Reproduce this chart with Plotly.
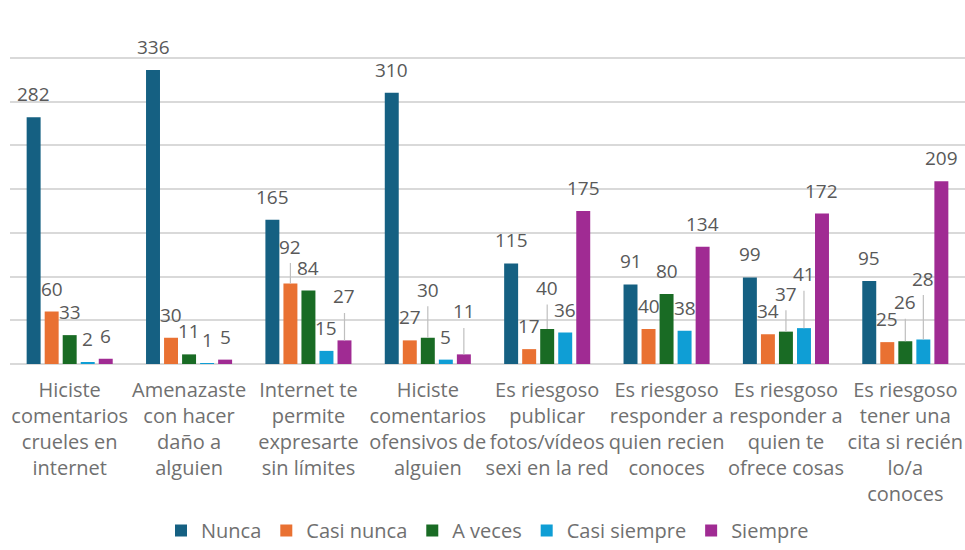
import plotly.graph_objects as go

categories = [
    "Hiciste<br>comentarios<br>crueles en<br>internet",
    "Amenazaste<br>con hacer<br>daño a<br>alguien",
    "Internet te<br>permite<br>expresarte<br>sin límites",
    "Hiciste<br>comentarios<br>ofensivos de<br>alguien",
    "Es riesgoso<br>publicar<br>fotos/vídeos<br>sexi en la red",
    "Es riesgoso<br>responder a<br>quien recien<br>conoces",
    "Es riesgoso<br>responder a<br>quien te<br>ofrece cosas",
    "Es riesgoso<br>tener una<br>cita si recién<br>lo/a<br>conoces",
]
series_names = ["Nunca", "Casi nunca", "A veces", "Casi siempre", "Siempre"]
nunca = [282, 336, 165, 310, 115, 91, 99, 95]
casi_nunca = [60, 30, 92, 27, 17, 40, 34, 25]
a_veces = [33, 11, 84, 30, 40, 80, 37, 26]
casi_siempre = [2, 1, 15, 5, 36, 38, 41, 28]
siempre = [6, 5, 27, 11, 175, 134, 172, 209]
series_values = [nunca, casi_nunca, a_veces, casi_siempre, siempre]

# styles
colors = ["#156082", "#E97132", "#196B24", "#0F9ED5", "#A02B93"]
bar_w = 0.117
pitch = 0.151
centers = [(k - 2) * pitch for k in range(5)]
label_lift_default = 23
# (category index, series index) -> pixel lift for labels moved up with leader lines
leader_lifts = {
    (2, 1): 37, (2, 4): 44, (3, 2): 48, (3, 4): 43, (4, 2): 41,
    (6, 2): 38, (6, 3): 54, (7, 2): 39, (7, 3): 61,
}
FONT = "Open Sans"
TXT = "#595959"
AXTXT = "#707070"

fig = go.Figure()
xs = list(range(len(categories)))
for k, (name, vals) in enumerate(zip(series_names, series_values)):
    fig.add_trace(go.Bar(
        x=xs, y=vals, name=name,
        width=bar_w, offset=centers[k] - bar_w / 2,
        marker=dict(color=colors[k], line=dict(width=0)),
        hoverinfo="y+name",
    ))

annotations = []
for k, vals in enumerate(series_values):
    for i, v in enumerate(vals):
        lift = leader_lifts.get((i, k), label_lift_default)
        is_leader = (i, k) in leader_lifts
        annotations.append(dict(
            x=i + centers[k], y=v, xref="x", yref="y",
            text=str(v), showarrow=True, arrowhead=0, arrowwidth=1.2,
            arrowcolor="#BFBFBF" if is_leader else "rgba(0,0,0,0)",
            ax=0, ay=-lift, standoff=0, borderpad=3,
            font=dict(family=FONT, size=19, color=TXT),
        ))

fig.update_layout(
    barmode="overlay",
    width=965, height=550,
    margin=dict(l=10, r=0, t=14, b=186, autoexpand=False),
    paper_bgcolor="white", plot_bgcolor="white",
    font=dict(family=FONT, color=TXT),
    annotations=annotations,
    showlegend=True,
    legend=dict(
        orientation="h", x=0.5, xanchor="center",
        yref="container", y=0, yanchor="bottom",
        borderwidth=0, bgcolor="rgba(0,0,0,0)",
        font=dict(family=FONT, size=20, color=AXTXT),
        traceorder="normal",
    ),
)
fig.update_xaxes(
    range=[-0.5, 7.5], tickmode="array", tickvals=xs, ticktext=categories,
    tickfont=dict(family=FONT, size=20, color=AXTXT), tickangle=0,
    ticklabelstandoff=12,
    showgrid=False, zeroline=False, showline=False, ticks="",
    automargin=False, fixedrange=True,
)
fig.update_yaxes(
    range=[0, 400], dtick=50, showticklabels=False,
    showgrid=True, gridcolor="#D9D9D9", gridwidth=1.5,
    zeroline=True, zerolinecolor="#D9D9D9", zerolinewidth=1.5,
    automargin=False, fixedrange=True,
)

fig.write_html(
    "out.html",
    config={"displayModeBar": False},
    post_script="document.body.style.margin='0';document.body.style.overflow='hidden';",
)
